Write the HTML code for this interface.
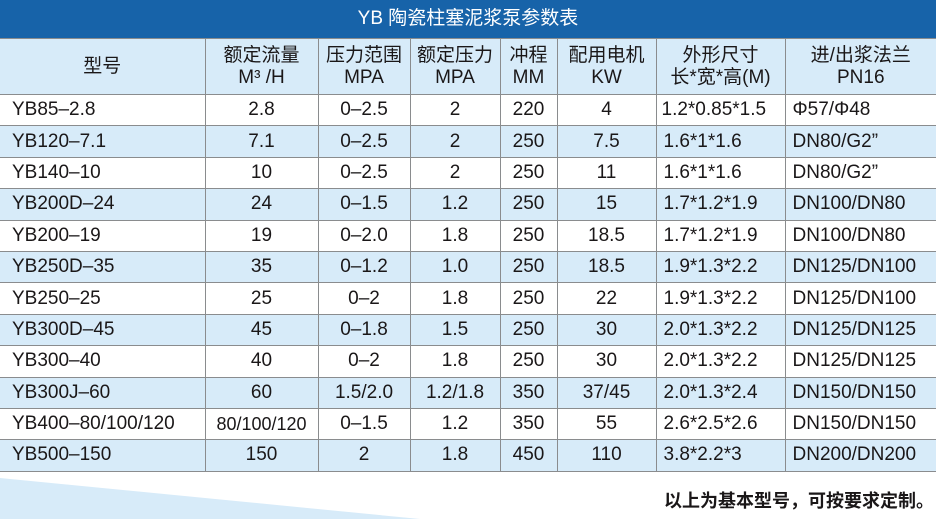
<!DOCTYPE html>
<html><head><meta charset="utf-8"><style>
body{margin:0;width:936px;height:519px;overflow:hidden;background:#fff;position:relative;font-family:"Liberation Sans","Noto Sans CJK SC",sans-serif;color:#1a1718}
.title{position:absolute;left:0;top:0;width:936px;height:38px;background:#1763a9;color:#fff;font-size:19px;line-height:38px;text-align:center}
table{position:absolute;left:0;top:38px;border-collapse:collapse;width:936px;table-layout:fixed}
td{border:1px solid #8a8c8e;font-size:19px;text-align:center;height:30.4px;padding:0;white-space:nowrap;overflow:hidden}
tr.h td{height:55px;line-height:22px;background:#d7ebf9;font-size:19px}
tr.b td{background:#d7ebf9}
td.l{text-align:left;padding-left:12px}
td.d{text-align:left;padding-left:7px}
td:first-child{border-left:none}td:last-child{border-right:none}
.foot{position:absolute;right:2px;top:487px;font-size:18px;font-weight:bold}
</style></head><body>
<div class="title">YB 陶瓷柱塞泥浆泵参数表</div>
<svg style="position:absolute;left:0;top:470px" width="936" height="49"><polygon points="0,8 0,49 420,49" fill="#d7ebf9"/></svg>
<table>
<colgroup><col style="width:205px"><col style="width:113px"><col style="width:92px"><col style="width:90px"><col style="width:57px"><col style="width:99px"><col style="width:129px"><col style="width:151px"></colgroup>
<tr class="h"><td>型号</td><td>额定流量<br>M³ /H</td><td>压力范围<br>MPA</td><td>额定压力<br>MPA</td><td>冲程<br>MM</td><td>配用电机<br>KW</td><td>外形尺寸<br>长*宽*高(M)</td><td>进/出浆法兰<br>PN16</td></tr>
<tr><td class="l">YB85–2.8</td><td>2.8</td><td>0–2.5</td><td>2</td><td>220</td><td>4</td><td class="d" style="padding-left:5px">1.2*0.85*1.5</td><td class="d">Φ57/Φ48</td></tr>
<tr class="b"><td class="l">YB120–7.1</td><td>7.1</td><td>0–2.5</td><td>2</td><td>250</td><td>7.5</td><td class="d">1.6*1*1.6</td><td class="d">DN80/G2”</td></tr>
<tr><td class="l">YB140–10</td><td>10</td><td>0–2.5</td><td>2</td><td>250</td><td>11</td><td class="d">1.6*1*1.6</td><td class="d">DN80/G2”</td></tr>
<tr class="b"><td class="l">YB200D–24</td><td>24</td><td>0–1.5</td><td>1.2</td><td>250</td><td>15</td><td class="d">1.7*1.2*1.9</td><td class="d">DN100/DN80</td></tr>
<tr><td class="l">YB200–19</td><td>19</td><td>0–2.0</td><td>1.8</td><td>250</td><td>18.5</td><td class="d">1.7*1.2*1.9</td><td class="d">DN100/DN80</td></tr>
<tr class="b"><td class="l">YB250D–35</td><td>35</td><td>0–1.2</td><td>1.0</td><td>250</td><td>18.5</td><td class="d">1.9*1.3*2.2</td><td class="d">DN125/DN100</td></tr>
<tr><td class="l">YB250–25</td><td>25</td><td>0–2</td><td>1.8</td><td>250</td><td>22</td><td class="d">1.9*1.3*2.2</td><td class="d">DN125/DN100</td></tr>
<tr class="b"><td class="l">YB300D–45</td><td>45</td><td>0–1.8</td><td>1.5</td><td>250</td><td>30</td><td class="d">2.0*1.3*2.2</td><td class="d">DN125/DN125</td></tr>
<tr><td class="l">YB300–40</td><td>40</td><td>0–2</td><td>1.8</td><td>250</td><td>30</td><td class="d">2.0*1.3*2.2</td><td class="d">DN125/DN125</td></tr>
<tr class="b"><td class="l">YB300J–60</td><td>60</td><td>1.5/2.0</td><td>1.2/1.8</td><td>350</td><td>37/45</td><td class="d">2.0*1.3*2.4</td><td class="d">DN150/DN150</td></tr>
<tr><td class="l">YB400–80/100/120</td><td style="font-size:18px">80/100/120</td><td>0–1.5</td><td>1.2</td><td>350</td><td>55</td><td class="d">2.6*2.5*2.6</td><td class="d">DN150/DN150</td></tr>
<tr class="b"><td class="l">YB500–150</td><td>150</td><td>2</td><td>1.8</td><td>450</td><td>110</td><td class="d">3.8*2.2*3</td><td class="d">DN200/DN200</td></tr>
</table>
<div class="foot">以上为基本型号，可按要求定制。</div>
</body></html>
